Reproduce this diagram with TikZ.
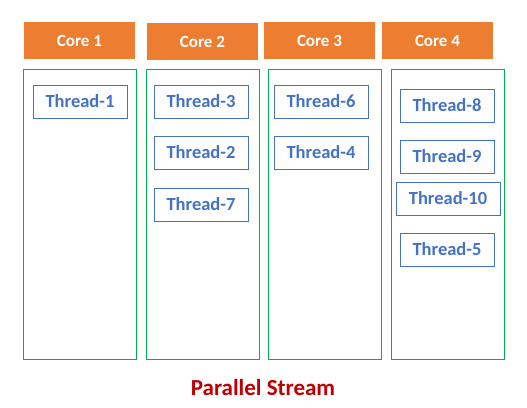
\documentclass[tikz,border=0pt]{standalone}
\usepackage{fontspec}
\setmainfont{Carlito}
\usetikzlibrary{positioning}
\definecolor{coreorange}{HTML}{ED7D31}
\definecolor{lanegreen}{HTML}{00B050}
\definecolor{threadblue}{HTML}{4472C4}
\definecolor{titlered}{HTML}{C00000}

\begin{document}
\begin{tikzpicture}[x=1pt,y=-1pt,line width=0.9pt,
  core/.style={fill=coreorange,text=white,inner sep=0pt,
    minimum width=111pt,minimum height=37pt,
    font=\bfseries\fontsize{17}{20}\selectfont},
  lane/.style={draw=lanegreen,inner sep=0pt,
    minimum width=113pt,minimum height=290pt},
  thread/.style={draw=threadblue,text=threadblue,inner sep=0pt,
    minimum width=94pt,minimum height=33pt,
    font=\bfseries\fontsize{18.5}{22}\selectfont}]
\useasboundingbox (0,0) rectangle (527,407);
% ---- cores on top ----
\foreach \i/\x/\y in {1/79.5/40.5, 2/202.5/41.5, 3/319.5/40.5, 4/437.5/40.5}{
  \node[core] (core\i) at (\x,\y) {Core \i};
}
% ---- one green lane per core ----
\foreach \i/\x in {1/79.5, 2/202.5, 3/324.5, 4/447.5}{
  \node[lane] (lane\i) at (\x,214) {};
}
% ---- threads ----
\node[thread] (t1) at (80,101.5) {Thread-1};
\node[thread] (t3) at (201,101.5) {Thread-3};
\node[thread] (t2) at (201,152.5) {Thread-2};
\node[thread] (t7) at (201,204.5) {Thread-7};
\node[thread] (t6) at (321,101.5) {Thread-6};
\node[thread] (t4) at (321,152.5) {Thread-4};
\node[thread] (t8) at (447,105.5) {Thread-8};
\node[thread] (t9) at (447,156.5) {Thread-9};
\node[thread,minimum width=104pt] (t10) at (448,198.5) {Thread-10};
\node[thread] (t5) at (447,249.5) {Thread-5};
% ---- caption ----
\node[text=titlered,font=\bfseries\fontsize{23}{27}\selectfont] (title) at (263,388) {Parallel Stream};
\end{tikzpicture}
\end{document}
